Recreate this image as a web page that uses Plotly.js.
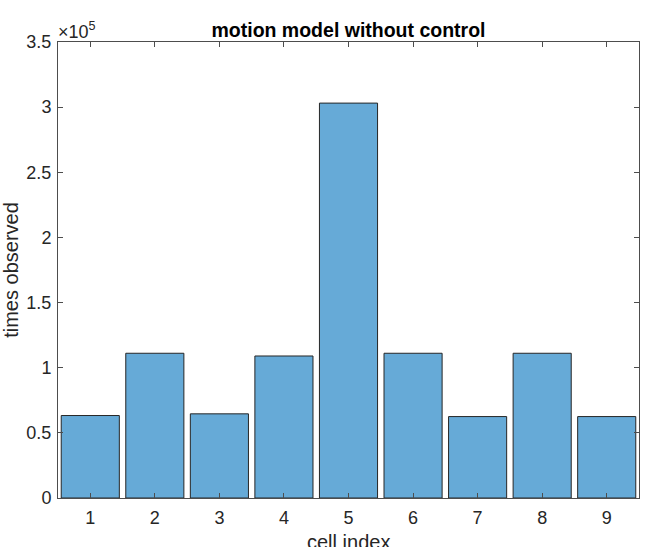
<!DOCTYPE html>
<html><head><meta charset="utf-8">
<script src="https://cdn.plot.ly/plotly-3.0.1.min.js"></script>
<style>html,body{margin:0;padding:0;background:#fff}#chart{width:660px;height:547px}</style>
</head><body><div id="chart"></div>
<script>
const cells = [1, 2, 3, 4, 5, 6, 7, 8, 9];
const timesObserved = [63300, 111100, 64600, 109000, 303100, 111100, 62500, 111100, 62500];
const yTickVals = [0, 50000, 100000, 150000, 200000, 250000, 300000, 350000];
const yTickText = ['0', '0.5', '1', '1.5', '2', '2.5', '3', '3.5'];

const axisColor = '#4d4d4d';
const fontFam = 'Liberation Sans, Arial, Helvetica, sans-serif';

Plotly.newPlot('chart', [{
  type: 'bar',
  x: cells,
  y: timesObserved,
  width: 0.9,
  marker: {color: 'rgb(102,170,215)', line: {color: 'rgb(38,38,38)', width: 1}},
  hoverinfo: 'x+y'
}], {
  width: 660, height: 547,
  margin: {l: 58, r: 21, t: 42, b: 49, pad: 0},
  paper_bgcolor: '#fff', plot_bgcolor: '#fff',
  showlegend: false,
  font: {family: fontFam, size: 18, color: '#262626'},
  title: {text: '<b>motion model without control</b>', font: {family: fontFam, size: 19.5, color: '#000'},
          x: 0.5, xref: 'paper', y: 1, yref: 'paper', yanchor: 'bottom', pad: {b: 5}},
  xaxis: {
    range: [0.5, 9.5], tickvals: cells, ticktext: cells.map(String),
    ticks: 'inside', ticklen: 5, tickcolor: axisColor, tickwidth: 1,
    showline: true, linecolor: axisColor, linewidth: 1, mirror: 'ticks',
    showgrid: false, zeroline: false, fixedrange: true, automargin: false,
    ticklabelstandoff: 3,
    tickfont: {size: 18, color: '#262626'}
  },
  yaxis: {
    range: [0, 350000], tickvals: yTickVals, ticktext: yTickText,
    ticks: 'inside', ticklen: 5, tickcolor: axisColor, tickwidth: 1,
    showline: true, linecolor: axisColor, linewidth: 1, mirror: 'ticks',
    showgrid: false, zeroline: false, fixedrange: true, automargin: false,
    ticklabelstandoff: 2,
    tickfont: {size: 18, color: '#262626'},
    title: {text: 'times observed', font: {size: 20, color: '#262626'}, standoff: 4}
  },
  annotations: [{
    text: '×10<sup>5</sup>', xref: 'paper', yref: 'paper', x: 0, y: 1,
    xanchor: 'left', yanchor: 'bottom', showarrow: false, yshift: -2, xshift: -2,
    font: {size: 18, color: '#262626'}
  }, {
    text: 'cell index', xref: 'paper', yref: 'paper', x: 0.5, y: 0,
    xanchor: 'center', yanchor: 'top', showarrow: false, yshift: -31,
    font: {size: 20, color: '#262626'}
  }]
}, {displayModeBar: false});
</script></body></html>
